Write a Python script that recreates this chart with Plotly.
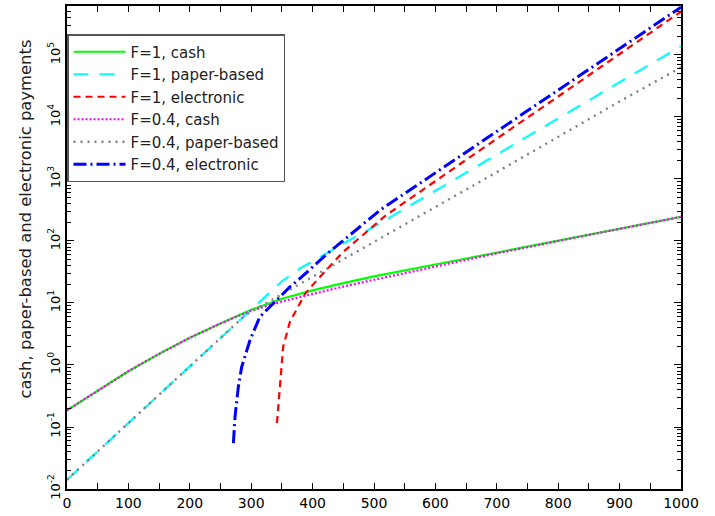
import plotly.graph_objects as go

# ---- data ----
x_cash = [0, 50, 100, 150, 200, 250, 300, 350, 400, 450, 500, 600, 700, 800, 900, 1000]
cash_f1 = [0.185, 0.389, 0.794, 1.51, 2.75, 4.68, 7.76, 11.7, 16.0, 20.9, 26.9, 41.7, 64.6, 100, 155, 245]
cash_f04 = [0.185, 0.389, 0.794, 1.51, 2.75, 4.68, 7.50, 10.6, 14.1, 18.4, 23.7, 38.9, 63.1, 100, 155, 245]

x_paper_f1 = [0, 100, 200, 300, 350, 380, 400, 450, 500, 600, 700, 800, 900, 1000]
paper_f1 = [0.0141, 0.116, 0.955, 7.85, 22.4, 36.3, 46.8, 91.2, 170, 646, 2450, 9330, 36300, 138000]

x_paper_f04 = [0, 100, 200, 290, 300, 350, 400, 450, 500, 600, 700, 800, 900, 1000]
paper_f04 = [0.0141, 0.116, 0.955, 6.31, 7.24, 13.8, 26.9, 51.3, 97.7, 355, 1290, 4790, 17800, 63100]

x_elec_f1 = [342, 344, 347, 352, 363, 377, 388, 407, 428, 450, 520, 600, 700, 800, 875, 960, 1000]
elec_f1 = [0.116, 0.209, 0.64, 1.95, 4.95, 9.2, 14.2, 23.3, 38.3, 67, 262, 912, 4470, 21400, 69500, 272000, 501000]

x_elec_f04 = [271, 273.6, 279, 284.5, 298, 314, 336, 363, 379.5, 423, 510, 600, 700, 800, 865, 1000]
elec_f04 = [0.055, 0.145, 0.44, 0.93, 2.51, 5.97, 9.8, 18.2, 24.9, 61.4, 315, 1260, 5890, 27500, 74000, 589000]

y_exponents = [-2, -1, 0, 1, 2, 3, 4, 5]
y_title = "cash, paper-based and electronic payments"

FONT = "DejaVu Sans"

fig = go.Figure()
fig.add_trace(go.Scatter(x=x_cash, y=cash_f1, mode="lines", name="F=1, cash",
                         line=dict(color="#00ff00", width=2.2)))
fig.add_trace(go.Scatter(x=x_paper_f1, y=paper_f1, mode="lines", name="F=1, paper-based",
                         line=dict(color="#00ffff", width=2.2, dash="15px,11px")))
fig.add_trace(go.Scatter(x=x_elec_f1, y=elec_f1, mode="lines", name="F=1, electronic",
                         line=dict(color="#ff0000", width=2.2, dash="7px,5px")))
fig.add_trace(go.Scatter(x=x_cash, y=cash_f04, mode="lines", name="F=0.4, cash",
                         line=dict(color="#ff00ff", width=2.2, dash="2px,2px")))
fig.add_trace(go.Scatter(x=x_paper_f04, y=paper_f04, mode="lines", name="F=0.4, paper-based",
                         line=dict(color="#808080", width=2.4, dash="2px,5px")))
fig.add_trace(go.Scatter(x=x_elec_f04, y=elec_f04, mode="lines", name="F=0.4, electronic",
                         line=dict(color="#0000ff", width=3, dash="13px,4px,2px,4px")))

minor_vals = [m * 10 ** e for e in range(-2, 6) for m in range(2, 10)]

fig.update_layout(
    width=715, height=516,
    margin=dict(l=67, r=34, t=6, b=27, autoexpand=False),
    paper_bgcolor="white", plot_bgcolor="white",
    font=dict(family=FONT, color="black", size=13),
    showlegend=True,
    legend=dict(x=0, y=0.942, xanchor="left", yanchor="top",
                bgcolor="white", bordercolor="#555555", borderwidth=1.5,
                font=dict(family=FONT, size=15, color="#222222"),
                itemwidth=52, tracegroupgap=0),
    xaxis=dict(range=[0, 1000], tickmode="linear", tick0=0, dtick=100,
               ticks="inside", ticklen=6, tickwidth=1, tickcolor="black",
               minor=dict(ticks="inside", ticklen=6, tickcolor="black", dtick=50, showgrid=False),
               mirror="allticks", showline=True, linewidth=2, linecolor="black",
               showgrid=False, zeroline=False, automargin=False,
               ticklabelstandoff=0,
               tickfont=dict(family=FONT, size=14, color="black")),
    yaxis=dict(type="log", range=[-2, 5.79], tickmode="array",
               tickvals=[10 ** e for e in y_exponents],
               ticktext=["10<sup>%d</sup>" % e for e in y_exponents],
               tickangle=-90,
               ticks="inside", ticklen=7, tickwidth=1, tickcolor="black",
               minor=dict(ticks="inside", ticklen=4, tickcolor="black", tickvals=minor_vals, showgrid=False),
               mirror="allticks", showline=True, linewidth=2, linecolor="black",
               showgrid=False, zeroline=False, automargin=False,
               ticklabelstandoff=0,
               tickfont=dict(family=FONT, size=13, color="black")),
    annotations=[dict(text=y_title, xref="paper", yref="paper",
                      x=-0.0668, y=0.56, xanchor="center", yanchor="middle",
                      textangle=-90, showarrow=False,
                      font=dict(family=FONT, size=16.4, color="#222222"))],
)

fig.write_html("out.html", config={"displayModeBar": False},
               post_script="document.body.style.margin='0';document.body.style.padding='0';")
